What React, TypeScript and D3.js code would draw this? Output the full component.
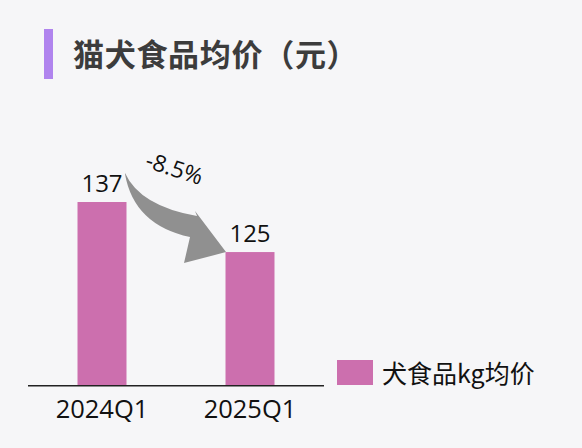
import React from "react";
import * as d3 from "d3";

const categories = ["2024Q1", "2025Q1"];
const values = [137, 125];
const changeLabel = "-8.5%";
const seriesName = "犬食品kg均价";
const title = "猫犬食品均价（元）";

const W = 582;
const H = 448;
const CJK = "'Noto Sans CJK SC', 'Noto Sans', sans-serif";
const LATIN = "'Open Sans', 'Noto Sans CJK SC', sans-serif";
const BAR = "#cc6fae";

export default function App() {
  const x = d3
    .scaleBand<string>()
    .domain(categories)
    .range([28, 324])
    .paddingInner(0.669)
    .paddingOuter(0.3345);
  const y = d3.scaleLinear().domain([93, 150]).range([385.5, 147.8]);

  // arrow from the first bar label to the second bar's corner
  const sx = (x(categories[0]) ?? 0) + x.bandwidth() - 0.5;
  const sy = y(values[0]) - 29;
  const tx = (x(categories[1]) ?? 0) + 0.5;
  const ty = y(values[1]);
  const p = d3.path();
  p.moveTo(sx - 1, sy);
  p.quadraticCurveTo(sx + 14, sy + 33, tx - 29, ty - 36);
  p.lineTo(tx - 31, ty - 41);
  p.lineTo(tx, ty);
  p.lineTo(tx - 42, ty + 11);
  p.lineTo(tx - 36, ty - 15);
  p.quadraticCurveTo(sx + 8, sy + 52, sx - 1, sy + 1);
  p.closePath();

  return (
    <svg
      width={W}
      height={H}
      viewBox={`0 0 ${W} ${H}`}
      style={{ position: "absolute", left: 0, top: 0, fontFamily: CJK }}
    >
      <rect width={W} height={H} fill="#f6f6f8" />
      <rect x={44} y={29} width={9} height={50} fill="#b084ee" />
      <text x={73} y={66} fontSize={31} fontWeight={700} letterSpacing={0.7} fill="#3c3c3c">
        {title}
      </text>

      {categories.map((c, i) => (
        <g key={c}>
          <rect
            x={x(c)}
            y={y(values[i])}
            width={x.bandwidth()}
            height={y.range()[0] - y(values[i])}
            fill={BAR}
          />
          <text
            x={(x(c) ?? 0) + x.bandwidth() / 2}
            y={y(values[i]) - 10}
            textAnchor="middle"
            fontFamily={LATIN}
            fontSize={24}
            fill="#111"
          >
            {values[i]}
          </text>
          <text
            x={(x(c) ?? 0) + x.bandwidth() / 2}
            y={418}
            textAnchor="middle"
            fontFamily={LATIN}
            fontSize={25.5}
            fill="#111"
          >
            {c}
          </text>
        </g>
      ))}

      <line x1={28} x2={324} y1={385.7} y2={385.7} stroke="#222" strokeWidth={1.6} />

      <path d={p.toString()} fill="#909090" />
      <text
        transform="translate(172,176) rotate(18)"
        textAnchor="middle"
        fontFamily={LATIN}
        fontSize={23}
        fill="#111"
      >
        {changeLabel}
      </text>

      <rect x={337} y={360} width={36} height={25} fill={BAR} />
      <text x={382} y={383} fontSize={25} fill="#111">
        {seriesName}
      </text>
    </svg>
  );
}
